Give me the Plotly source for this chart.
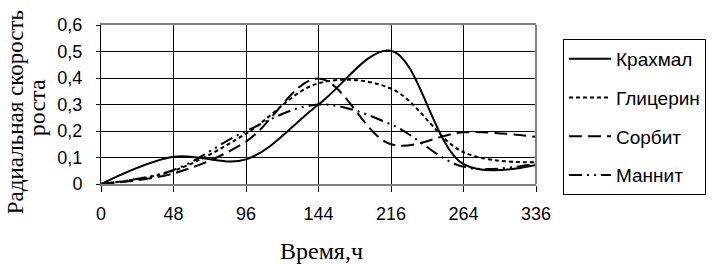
import plotly.graph_objects as go

hours = ["0", "48", "96", "144", "216", "264", "336"]
krakhmal = [0.0, 0.103, 0.093, 0.30, 0.503, 0.075, 0.072]
glitserin = [0.0, 0.05, 0.19, 0.38, 0.36, 0.12, 0.082]
sorbit = [0.0, 0.04, 0.16, 0.398, 0.15, 0.195, 0.178]
mannit = [0.0, 0.053, 0.20, 0.30, 0.225, 0.065, 0.077]

series = [
    ("Крахмал", krakhmal, "solid", 2),
    ("Глицерин", glitserin, "4px,3px", 2),
    ("Сорбит", sorbit, "13px,6px", 2),
    ("Маннит", mannit, "13px,5px,2px,5px,2px,5px", 2),
]

fig = go.Figure()
for i, (name, vals, dash, w) in enumerate(series):
    fig.add_trace(go.Scatter(
        x=hours, y=vals, name=name, mode="lines",
        line=dict(color="black", width=w, dash=dash, shape="spline", smoothing=1.0),
        legendgroup=f"g{i}",
    ))

serif = "Liberation Serif, Times New Roman"
PL, PR, PT, PB = 101, 537, 25, 184
def px_x(p):
    return (p - PL) / (PR - PL)
def px_y(p):
    return (PB - p) / (PB - PT)

fig.update_layout(
    width=717, height=264,
    margin=dict(l=PL, r=717 - PR, t=PT, b=264 - PB),
    paper_bgcolor="white", plot_bgcolor="white",
    separators=", ",
    font=dict(family="Liberation Sans, Arial", size=18, color="black"),
    showlegend=True,
    legend=dict(
        x=px_x(563), xanchor="left", y=px_y(39), yanchor="top",
        bordercolor="black", borderwidth=1, bgcolor="white",
        font=dict(size=19, family="Liberation Sans, Arial"),
        tracegroupgap=11,
        itemwidth=42,
    ),
    xaxis=dict(
        type="category", range=[0, 6],
        showgrid=True, gridcolor="black", gridwidth=1,
        showline=True, linecolor="#808080", linewidth=2, mirror=True,
        ticks="outside", ticklen=6, tickcolor="black",
        tickfont=dict(size=18), ticklabelstandoff=6,
    ),
    yaxis=dict(
        range=[0, 0.6], dtick=0.1,
        showgrid=True, gridcolor="black", gridwidth=1,
        showline=True, linecolor="black", linewidth=1,
        zeroline=False,
        ticks="outside", ticklen=4, tickcolor="black",
        tickfont=dict(size=18), ticklabelstandoff=10,
    ),
    annotations=[
        dict(text="Радиальная скорость", xref="paper", yref="paper",
             x=px_x(15), y=px_y(112), xanchor="center", yanchor="middle",
             textangle=-90, showarrow=False, borderpad=0,
             font=dict(family=serif, size=23)),
        dict(text="роста", xref="paper", yref="paper",
             x=px_x(37), y=px_y(108), xanchor="center", yanchor="middle",
             textangle=-90, showarrow=False, borderpad=0,
             font=dict(family=serif, size=24)),
        dict(text="Время,ч", xref="paper", yref="paper",
             x=px_x(322), y=px_y(251), xanchor="center", yanchor="middle",
             showarrow=False, font=dict(family=serif, size=24)),
    ],
    shapes=[dict(type="line", xref="paper", yref="paper", x0=1, x1=1, y0=0, y1=1,
                 line=dict(color="#808080", width=2))],
)

fig.write_html("out.html")
